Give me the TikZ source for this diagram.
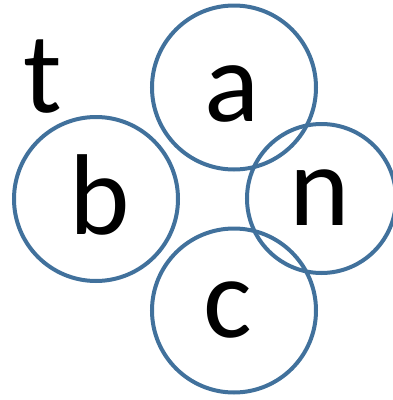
\documentclass[tikz,border=0pt]{standalone}
\usepackage{fontspec}
\setmainfont{Carlito}
\definecolor{ringblue}{RGB}{65,113,156}
\begin{document}
\begin{tikzpicture}[x=1pt,y=-1pt,
  ring/.style={draw=ringblue,line width=4pt,circle,inner sep=0pt},
  letter/.style={anchor=base,inner sep=0pt,font=\fontsize{115}{115}\selectfont}]
\useasboundingbox (0,0) rectangle (393,400);
\clip (0,0) rectangle (393,400);
\node[ring,minimum size=164pt] (ca) at (234,87.5) {};
\node[ring,minimum size=164pt] (cb) at (96,199) {};
\node[ring,minimum size=149pt] (cn) at (321.5,198.5) {};
\node[ring,minimum size=164pt] (cc) at (234,310.5) {};
\node[letter] (lt) at (42.5,112) {t};
\node[letter] (la) at (232.5,121) {a};
\node[letter] (lb) at (100,234) {b};
\node[letter] (ln) at (319.5,225) {n};
\node[letter] (lc) at (228,337) {c};
\end{tikzpicture}
\end{document}
